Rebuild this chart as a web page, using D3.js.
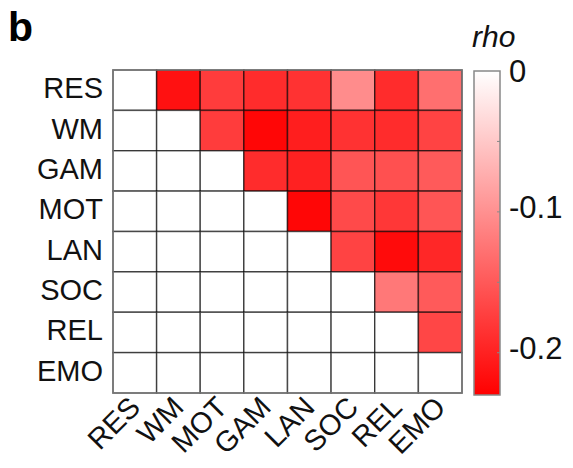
<!DOCTYPE html>
<html>
<head>
<meta charset="utf-8">
<script src="https://cdn.jsdelivr.net/npm/d3@7"></script>
<style>
  html, body { margin: 0; padding: 0; background: #fff; }
  svg { display: block; font-family: "Liberation Sans", Arial, sans-serif; }
</style>
</head>
<body>
<svg id="chart" width="573" height="468"></svg>
<script>
// row / column labels (note: GAM and MOT swap between axes, as in the figure)
const rowLabels = ["RES", "WM", "GAM", "MOT", "LAN", "SOC", "REL", "EMO"];
const colLabels = ["RES", "WM", "MOT", "GAM", "LAN", "SOC", "REL", "EMO"];

// upper-triangle rho values, row by row (cells right of the diagonal)
const rowRES = [-0.215, -0.176, -0.19, -0.185, -0.104, -0.19, -0.13];
const rowWM  = [-0.176, -0.225, -0.203, -0.185, -0.19, -0.17];
const rowGAM = [-0.19, -0.2, -0.153, -0.158, -0.149];
const rowMOT = [-0.225, -0.163, -0.18, -0.153];
const rowLAN = [-0.17, -0.22, -0.195];
const rowSOC = [-0.122, -0.149];
const rowREL = [-0.167];
const upper = [rowRES, rowWM, rowGAM, rowMOT, rowLAN, rowSOC, rowREL, []];

const cbTicks = [0, -0.1, -0.2];
const cbMinor = [-0.05, -0.1, -0.15, -0.2];

const svg = d3.select("#chart");

const x = d3.scaleBand().domain(colLabels).range([113, 462]);
const y = d3.scaleBand().domain(rowLabels).range([70, 393]);
const color = d3.scaleLinear().domain([-0.23, 0]).range(["#ff0000", "#ffffff"]);

// flatten into cells
const cells = [];
rowLabels.forEach((r, i) => {
    colLabels.forEach((c, j) => {
        const v = j > i ? upper[i][j - i - 1] : null;
        cells.push({row: r, col: c, value: v});
    });
});

svg.append("g")
    .selectAll("rect")
    .data(cells)
    .enter()
    .append("rect")
    .attr("x", d => x(d.col))
    .attr("y", d => y(d.row))
    .attr("width", x.bandwidth())
    .attr("height", y.bandwidth())
    .attr("fill", d => d.value == null ? "#fff" : color(d.value))
    .attr("stroke", "#000")
    .attr("stroke-opacity", 0.6)
    .attr("stroke-width", 1.5);

// outer frame
svg.append("rect")
    .attr("x", 113).attr("y", 70)
    .attr("width", 349).attr("height", 323)
    .attr("fill", "none")
    .attr("stroke", "#777")
    .attr("stroke-width", 1.5);

// row labels
svg.append("g")
    .selectAll("text")
    .data(rowLabels)
    .enter()
    .append("text")
    .attr("x", 103)
    .attr("y", d => y(d) + y.bandwidth() / 2 + 8)
    .attr("text-anchor", "end")
    .attr("font-size", 29)
    .attr("fill", "#111")
    .text(d => d);

// column labels, rotated
svg.append("g")
    .selectAll("text")
    .data(colLabels)
    .enter()
    .append("text")
    .attr("transform", d => `translate(${x(d) + x.bandwidth() / 2 + 7},${409}) rotate(-45)`)
    .attr("text-anchor", "end")
    .attr("font-size", 29)
    .attr("fill", "#111")
    .text(d => d);

// colour bar
const cb = d3.scaleLinear().domain([0, -0.23]).range([71, 395]);
const defs = svg.append("defs");
const grad = defs.append("linearGradient")
    .attr("id", "cbgrad")
    .attr("x1", 0).attr("y1", 0).attr("x2", 0).attr("y2", 1);
grad.append("stop").attr("offset", "0%").attr("stop-color", color(0));
grad.append("stop").attr("offset", "100%").attr("stop-color", color(-0.23));

svg.append("rect")
    .attr("x", 474).attr("y", cb(0))
    .attr("width", 26).attr("height", cb(-0.23) - cb(0))
    .attr("fill", "url(#cbgrad)")
    .attr("stroke", "#888")
    .attr("stroke-width", 1.5);

svg.append("g")
    .selectAll("line")
    .data(cbMinor)
    .enter()
    .append("line")
    .attr("x1", 497).attr("x2", 500)
    .attr("y1", d => cb(d)).attr("y2", d => cb(d))
    .attr("stroke", "#888")
    .attr("stroke-width", 1);

svg.append("g")
    .selectAll("text")
    .data(cbTicks)
    .enter()
    .append("text")
    .attr("x", 509)
    .attr("y", d => cb(d) + (d === 0 ? 11 : 6))
    .attr("font-size", 31)
    .attr("fill", "#111")
    .text(d => d === 0 ? "0" : d3.format(".1f")(d).replace("−", "-"));

svg.append("text")
    .attr("x", 472).attr("y", 47)
    .attr("font-size", 30)
    .attr("font-style", "italic")
    .attr("fill", "#111")
    .text("rho");

// panel letter
svg.append("text")
    .attr("x", 8).attr("y", 41)
    .attr("font-size", 41)
    .attr("font-weight", "bold")
    .attr("fill", "#000")
    .text("b");
</script>
</body>
</html>
